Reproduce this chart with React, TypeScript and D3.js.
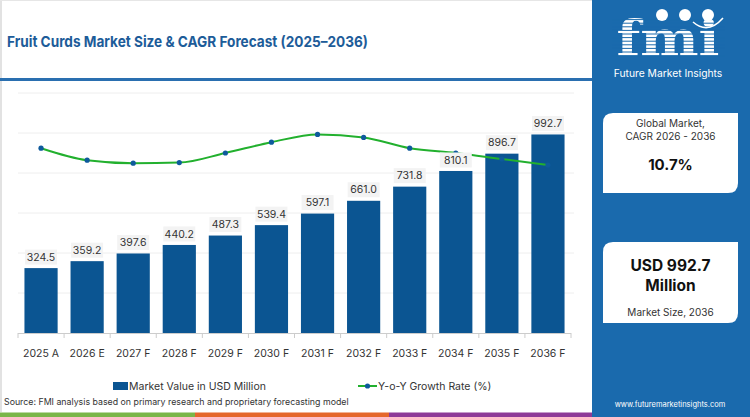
import { useEffect, useRef } from 'react';
import * as d3 from 'd3';

const years = ['2025 A', '2026 E', '2027 F', '2028 F', '2029 F', '2030 F', '2031 F', '2032 F', '2033 F', '2034 F', '2035 F', '2036 F'];
const marketValue = [324.5, 359.2, 397.6, 440.2, 487.3, 539.4, 597.1, 661.0, 731.8, 810.1, 896.7, 992.7];
const yoyGrowth = [11.08, 10.88, 10.83, 10.84, 11.0, 11.18, 11.31, 11.26, 11.08, 11.0, 10.9, 10.8];
const valueTicks = [0, 200, 400, 600, 800, 1000, 1200];

const W = 750;
const H = 417;
const FONT = 'Inter, "Open Sans", sans-serif';
const BLUE = '#0b5592';
const PANEL = '#1a6aad';

const App = () => {
  const svgRef = useRef<SVGSVGElement>(null);

  useEffect(() => {
    if (!svgRef.current) return;
    const svg = d3.select(svgRef.current);
    svg.selectAll('*').remove();

    // page frame
    svg.append('rect').attr('width', W).attr('height', H).attr('fill', 'white');
    svg.append('line').attr('x1', 1).attr('x2', 1).attr('y1', 0).attr('y2', 412)
      .attr('stroke', '#d9d9d9').attr('stroke-width', 1.5);
    svg.append('line').attr('x1', 0).attr('x2', 600).attr('y1', 0.5).attr('y2', 0.5)
      .attr('stroke', '#e6e6e6');

    // title
    svg.append('text')
      .attr('x', 7).attr('y', 47)
      .attr('fill', '#1d5c99')
      .attr('textLength', 361)
      .attr('lengthAdjust', 'spacingAndGlyphs')
      .style('font-family', FONT)
      .style('font-size', '15px')
      .style('font-weight', 700)
      .text('Fruit Curds Market Size & CAGR Forecast (2025–2036)');
    svg.append('rect').attr('x', 0).attr('y', 78).attr('width', 596).attr('height', 3).attr('fill', '#2a6fb0');

    // scales
    const x = d3.scaleBand<string>().domain(years).range([18, 571]).paddingInner(0.28).paddingOuter(0.14);
    const y = d3.scaleLinear().domain([0, 1200]).range([333, 93]);
    const y2 = d3.scaleLinear().domain([8, 12]).range([333, 93]);
    const cx = (i: number) => x(years[i])! + x.bandwidth() / 2;

    // gridlines
    svg.append('g').selectAll('line')
      .data(valueTicks.slice(1))
      .join('line')
      .attr('x1', 18).attr('x2', 574)
      .attr('y1', d => y(d)).attr('y2', d => y(d))
      .attr('stroke', '#eeeeee');

    // bars
    svg.append('g').selectAll('rect')
      .data(marketValue)
      .join('rect')
      .attr('x', (_, i) => x(years[i])!)
      .attr('y', d => y(d))
      .attr('width', x.bandwidth())
      .attr('height', d => y(0) - y(d))
      .attr('fill', BLUE);

    // x axis
    const axis = svg.append('g');
    axis.append('line').attr('x1', 18).attr('x2', 571).attr('y1', 333.5).attr('y2', 333.5)
      .attr('stroke', '#cccccc');
    axis.selectAll('line.tick')
      .data(d3.range(years.length + 1))
      .join('line')
      .attr('class', 'tick')
      .attr('x1', i => 18 + i * x.step()).attr('x2', i => 18 + i * x.step())
      .attr('y1', 333).attr('y2', 338)
      .attr('stroke', '#cccccc');
    axis.selectAll('text')
      .data(years)
      .join('text')
      .attr('x', (_, i) => cx(i))
      .attr('y', 357)
      .attr('text-anchor', 'middle')
      .attr('fill', '#333')
      .style('font-family', FONT)
      .style('font-size', '10.5px')
      .text(d => d);

    // growth line
    const line = d3.line<number>()
      .x((_, i) => cx(i))
      .y(d => y2(d))
      .curve(d3.curveMonotoneX);
    svg.append('path')
      .datum(yoyGrowth)
      .attr('d', line)
      .attr('fill', 'none')
      .attr('stroke', '#22b02e')
      .attr('stroke-width', 2);
    svg.append('g').selectAll('circle')
      .data(yoyGrowth)
      .join('circle')
      .attr('cx', (_, i) => cx(i))
      .attr('cy', d => y2(d))
      .attr('r', 2.6)
      .attr('fill', '#0e5a9c');

    // value labels
    const labels = svg.append('g').selectAll('g')
      .data(marketValue)
      .join('g')
      .attr('transform', (d, i) => `translate(${cx(i)},${y(d) - 11})`);
    labels.append('rect')
      .attr('x', -16).attr('y', -7.5).attr('width', 32).attr('height', 15)
      .attr('fill', '#f3f3f3');
    labels.append('text')
      .attr('text-anchor', 'middle')
      .attr('dy', '0.35em')
      .attr('fill', '#333')
      .style('font-family', FONT)
      .style('font-size', '10.5px')
      .text(d => d.toFixed(1));

    // legend
    const legend = svg.append('g').style('font-family', FONT).style('font-size', '10.5px').attr('fill', '#333');
    legend.append('rect').attr('x', 113).attr('y', 382).attr('width', 15).attr('height', 8).attr('fill', BLUE);
    legend.append('text').attr('x', 129).attr('y', 390).text('Market Value in USD Million');
    legend.append('line').attr('x1', 358).attr('x2', 377).attr('y1', 386).attr('y2', 386)
      .attr('stroke', '#22b02e').attr('stroke-width', 2);
    legend.append('circle').attr('cx', 367.5).attr('cy', 386).attr('r', 2.6).attr('fill', '#0e5a9c');
    legend.append('text').attr('x', 378).attr('y', 390).text('Y-o-Y Growth Rate (%)');

    svg.append('text')
      .attr('x', 4).attr('y', 405)
      .attr('fill', '#333')
      .style('font-family', FONT)
      .style('font-size', '8.8px')
      .text('Source: FMI analysis based on primary research and proprietary forecasting model');

    // bottom colour strip
    const strip = [['#7ab648', 0, 195], ['#e5672b', 195, 389], ['#8e3a97', 389, 600]] as const;
    svg.append('g').selectAll('rect')
      .data(strip)
      .join('rect')
      .attr('x', d => d[1]).attr('y', 412.5)
      .attr('width', d => d[2] - d[1]).attr('height', 4.5)
      .attr('fill', d => d[0]);

    // right panel
    const panel = svg.append('g');
    panel.append('rect').attr('x', 592).attr('y', 0).attr('width', W - 592).attr('height', H).attr('fill', PANEL);

    // logo
    const logo = panel.append('g');
    logo.append('text')
      .attr('x', 668).attr('y', 56)
      .attr('text-anchor', 'middle')
      .attr('fill', 'white')
      .style('font-family', '"DejaVu Serif", serif')
      .style('font-size', '50px')
      .style('font-weight', 700)
      .attr('textLength', 103)
      .attr('lengthAdjust', 'spacingAndGlyphs')
      .text('fmi');
    logo.selectAll('line')
      .data(d3.range(12))
      .join('line')
      .attr('x1', 612).attr('x2', 725)
      .attr('y1', i => 16 + i * 3.6).attr('y2', i => 16 + i * 3.6)
      .attr('stroke', PANEL).attr('stroke-width', 1);
    logo.selectAll('circle')
      .data([662, 685, 708])
      .join('circle')
      .attr('cx', d => d).attr('cy', 15).attr('r', 6)
      .attr('fill', 'white');
    logo.append('path')
      .attr('d', 'M693,22 Q708,35 723,18')
      .attr('fill', 'none').attr('stroke', 'white').attr('stroke-width', 1.5);
    logo.append('text')
      .attr('x', 668).attr('y', 77)
      .attr('text-anchor', 'middle')
      .attr('fill', 'white')
      .style('font-family', FONT)
      .style('font-size', '10.3px')
      .text('Future Market Insights');

    const card = (y0: number, h: number) =>
      panel.append('path')
        .attr('d', `M603,${y0 + 10} Q603,${y0} 613,${y0} L738,${y0} L738,${y0 + h - 10} Q738,${y0 + h} 728,${y0 + h} L603,${y0 + h} Z`)
        .attr('fill', 'white');
    card(113, 80);
    card(242, 81);

    const cardText = (t: string, yy: number, size: number, weight: number) =>
      panel.append('text')
        .attr('x', 670.5).attr('y', yy)
        .attr('text-anchor', 'middle')
        .attr('fill', weight > 500 ? '#111' : '#333')
        .style('font-family', FONT)
        .style('font-size', `${size}px`)
        .style('font-weight', weight)
        .text(t);
    cardText('Global Market,', 127, 10, 400);
    cardText('CAGR 2026 - 2036', 140, 10, 400);
    cardText('10.7%', 170, 15, 700);
    cardText('USD 992.7', 271, 15.5, 700);
    cardText('Million', 291, 15.5, 700);
    cardText('Market Size, 2036', 316, 10, 400);

    panel.append('text')
      .attr('x', 670).attr('y', 407)
      .attr('text-anchor', 'middle')
      .attr('fill', 'white')
      .style('font-family', FONT)
      .style('font-size', '7.5px')
      .text('www.futuremarketinsights.com');
  }, []);

  return <svg ref={svgRef} width={W} height={H} style={{ display: 'block', position: 'absolute', left: 0, top: 0 }} />;
};

export default App;
